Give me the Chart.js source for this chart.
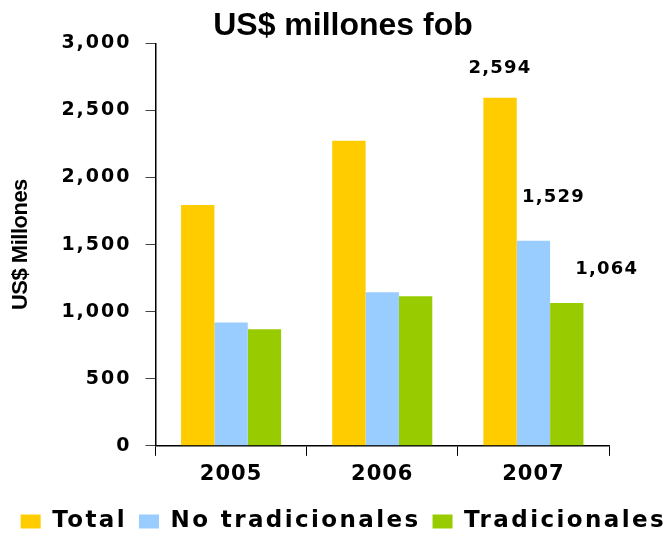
<!DOCTYPE html>
<html>
<head>
<meta charset="utf-8">
<script src="https://cdn.jsdelivr.net/npm/chart.js@4"></script>
<style>
  body { margin: 0; background: #fff; }
  #wrap { width: 668px; height: 535px; }
</style>
</head>
<body>
<div id="wrap"><canvas id="canvas"></canvas></div>
<script>
var years = ['2005', '2006', '2007'];
var total = [1795, 2275, 2594];
var noTradicionales = [920, 1145, 1529];
var tradicionales = [868, 1115, 1064];
var yTicks = [0, 500, 1000, 1500, 2000, 2500, 3000];

// letter spacing per font, the original text is stretched wide
function spacingFor(font) {
    var m = font.match(/(\d+(\.\d+)?)px/);
    var size = m ? +m[1] : 0;
    if (font.indexOf('Liberation') >= 0) {
        return size == 22 ? '-0.5px' : '0px';
    }
    if (size == 19) return '2px';
    if (size == 21) return '1px';
    if (size == 23) return '2.4px';
    if (size == 18) return '1.2px';
    return '0px';
}

const canvas = document.getElementById('canvas');
const ctx = canvas.getContext('2d');
['fillText', 'measureText'].forEach(function (fn) {
    var orig = ctx[fn];
    ctx[fn] = function () {
        this.letterSpacing = spacingFor(this.font);
        return orig.apply(this, arguments);
    };
});

// value labels, only on the last year like the original
const valueLabels = {
    id: 'valueLabels',
    afterDatasetsDraw(chart) {
        var offsets = [[0, -30], [20, -43], [40, -34]];
        var c = chart.ctx;
        c.save();
        c.font = 'bold 18px "DejaVu Sans"';
        c.fillStyle = '#000';
        c.textAlign = 'center';
        c.textBaseline = 'middle';
        chart.data.datasets.forEach(function (ds, i) {
            var meta = chart.getDatasetMeta(i);
            var last = ds.data.length - 1;
            var bar = meta.data[last];
            c.fillText(ds.data[last].toLocaleString('en-US'), bar.x + offsets[i][0], bar.y + offsets[i][1]);
        });
        c.restore();
    }
};

const myChart = new Chart(ctx, {
    type: 'bar',
    data: {
        labels: years,
        datasets: [{
            label: 'Total',
            data: total,
            backgroundColor: '#FFCC00'
        }, {
            label: 'No tradicionales',
            data: noTradicionales,
            backgroundColor: '#99CCFF'
        }, {
            label: 'Tradicionales',
            data: tradicionales,
            backgroundColor: '#99CC00'
        }]
    },
    options: {
        responsive: true,
        maintainAspectRatio: false,
        animation: false,
        categoryPercentage: 0.662,
        barPercentage: 1,
        layout: { padding: { left: 8, right: -10, top: 0, bottom: -8 } },
        plugins: {
            title: {
                display: true,
                text: 'US$ millones fob',
                color: '#000',
                font: { family: 'Liberation Sans', size: 32, weight: 'bold' },
                padding: { top: 7, bottom: -2 }
            },
            legend: {
                position: 'bottom',
                align: 'end',
                labels: {
                    color: '#000',
                    boxWidth: 20,
                    boxHeight: 14,
                    padding: 12,
                    font: { family: 'DejaVu Sans', size: 23, weight: 'bold' }
                }
            },
            tooltip: { enabled: false }
        },
        scales: {
            x: {
                grid: { display: true, drawOnChartArea: false, drawTicks: true, tickLength: 10, color: '#000', offset: true },
                border: { color: '#000', width: 1.5 },
                ticks: {
                    color: '#000',
                    padding: 6,
                    font: { family: 'DejaVu Sans', size: 21, weight: 'bold' }
                },
                afterFit: function (scale) { scale.height += 5; }
            },
            y: {
                min: 0,
                max: 3000,
                afterBuildTicks: function (scale) {
                    scale.ticks = yTicks.map(function (v) { return { value: v }; });
                },
                grid: { display: true, drawOnChartArea: false, drawTicks: true, tickLength: 10, color: '#444' },
                border: { color: '#000', width: 1.5 },
                ticks: {
                    color: '#000',
                    padding: 14,
                    font: { family: 'DejaVu Sans', size: 19, weight: 'bold' },
                    callback: function (value) { return value.toLocaleString('en-US'); }
                },
                title: {
                    display: true,
                    text: 'US$ Millones',
                    color: '#000',
                    font: { family: 'Liberation Sans', size: 22, weight: 'bold' },
                    padding: { top: 0, bottom: 13 }
                }
            },
            yR: {
                type: 'linear',
                position: 'right',
                display: true,
                grid: { display: false },
                border: { display: false },
                ticks: { display: false },
                afterFit: function (scale) { scale.width = 69; }
            }
        }
    },
    plugins: [valueLabels]
});
</script>
</body>
</html>
